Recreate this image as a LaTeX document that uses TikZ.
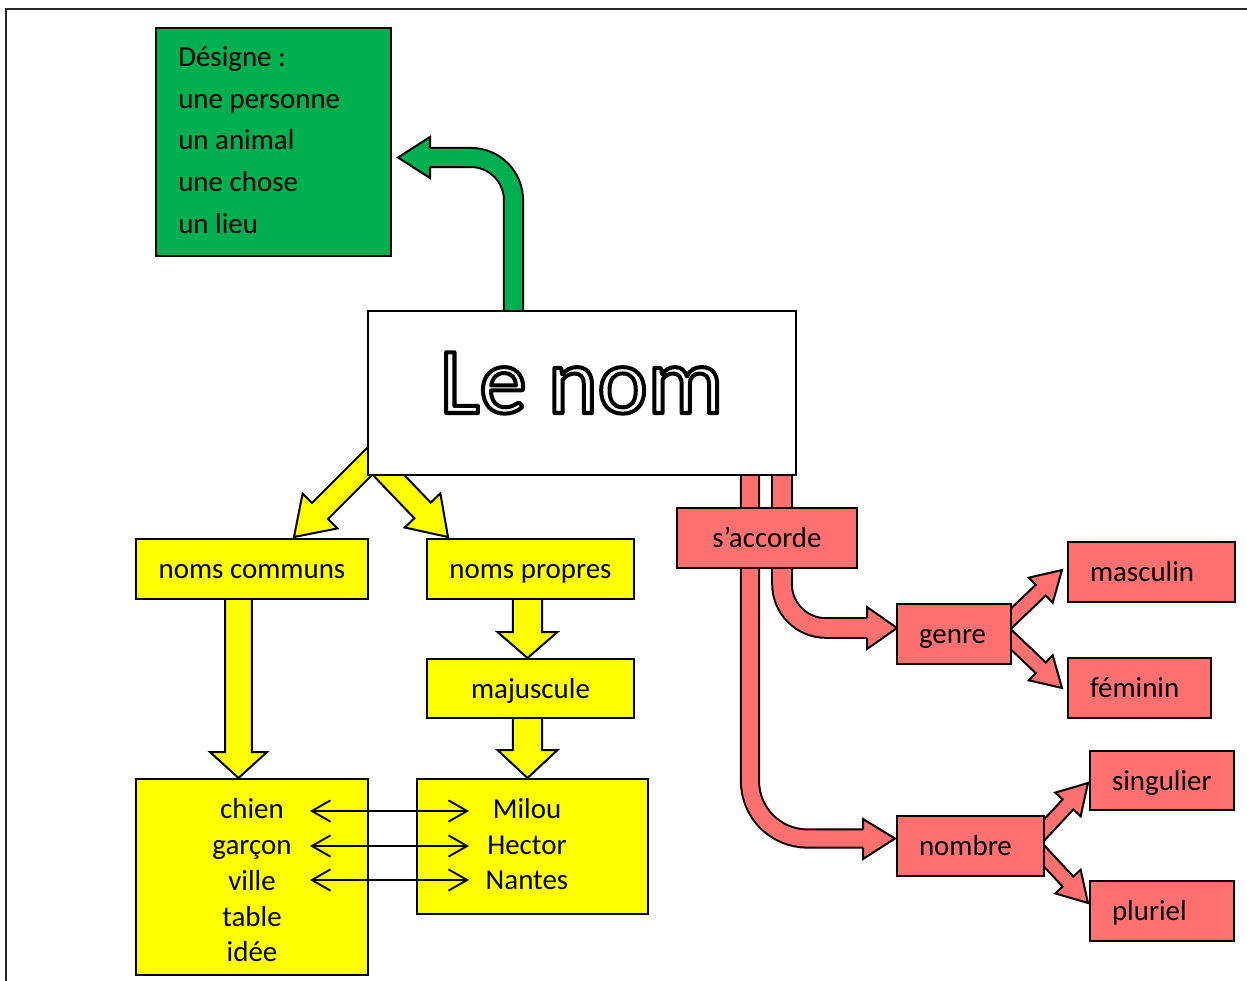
\documentclass[tikz,border=0pt]{standalone}
\usepackage{fontspec}
\setmainfont{Carlito}
\usetikzlibrary{calc,arrows.meta}
\definecolor{gr}{HTML}{00B050}
\definecolor{ye}{HTML}{FFFF00}
\definecolor{sa}{HTML}{FF7070}
\pgfdeclarelayer{bg}
\pgfsetlayers{bg,main}
% block arrow: style, start, tip, shaft half width, head half width, head length
\newcommand\blockarr[6]{%
  \coordinate (ba-h) at ($(#3)!#6!(#2)$);
  \filldraw[#1] ($(#2)!#4!90:(#3)$) -- ($(ba-h)!#4!90:(#3)$) -- ($(ba-h)!#5!90:(#3)$) -- (#3)
    -- ($(ba-h)!#5!-90:(#3)$) -- ($(ba-h)!#4!-90:(#3)$) -- ($(#2)!#4!-90:(#3)$) -- cycle;}
\newcommand\outlinetext[1]{{\color{white}\special{pdf:literal direct 2 Tr 3 w 0 0 0 RG 1 j}#1\special{pdf:literal direct 0 Tr}}}
\begin{document}
\begin{tikzpicture}[x=0.75pt,y=-0.75pt,
  font=\fontsize{21.7}{26}\selectfont,
  box/.style={draw=black, line width=1.5pt, inner sep=0pt, text height=17.6pt, text depth=3pt},
  leaf/.style={box, fill=sa, align=left, inner xsep=16.5pt, minimum height=45pt},
  txt/.style={inner sep=0pt, anchor=base},
  yarr/.style={fill=ye, draw=black, line width=1.5pt, line join=miter},
  rarr/.style={fill=sa, draw=black, line width=1.5pt, line join=miter},
  edge/.style={draw=black, line width=1.5pt, line join=miter},
  dbl/.style={line width=1.4pt, arrows={Straight Barb[length=14pt,width=16pt]-Straight Barb[length=14pt,width=16pt]}}]
\useasboundingbox (0,0) rectangle (1247,981);
\draw[line width=1.5pt, black!85] (6,990) -- (6,9) -- (1260,9);

% green box
\node[box, fill=gr, minimum width=176.25pt, minimum height=171pt] (desig) at (273.5,142) {};
\node[txt, anchor=base west] (d1) at (178,67) {Désigne :};
\node[txt, anchor=base west] (d2) at (178,108.5) {une personne};
\node[txt, anchor=base west] (d3) at (178,150) {un animal};
\node[txt, anchor=base west] (d4) at (178,191.5) {une chose};
\node[txt, anchor=base west] (d5) at (178,233) {un lieu};

% title
\node[box, fill=white, minimum width=321pt, minimum height=123pt] (lenom) at (582,393) {};
\node[txt, font=\fontsize{71}{80}\selectfont] (title) at (581.5,413) {\outlinetext{Le nom}};

% yellow boxes
\node[box, fill=ye, minimum width=174pt, minimum height=45pt] (communs) at (252,569) {noms communs};
\node[box, fill=ye, minimum width=155.25pt, minimum height=45pt] (propres) at (530.5,569) {noms propres};
\node[box, fill=ye, minimum width=155.25pt, minimum height=44.25pt] (maj) at (530.5,688.5) {majuscule};
\node[box, fill=ye, minimum width=174pt, minimum height=147pt] (exL) at (252,877) {};
\node[box, fill=ye, minimum width=173.25pt, minimum height=101.25pt] (exR) at (532.5,846.5) {};
\node[txt] (w1) at (252,818) {chien};
\node[txt] (w2) at (252,854) {garçon};
\node[txt] (w3) at (252,890) {ville};
\node[txt] (w4) at (252,926) {table};
\node[txt] (w5) at (252,961) {idée};
\node[txt] (p1) at (527,818) {Milou};
\node[txt] (p2) at (527,854) {Hector};
\node[txt] (p3) at (527,889) {Nantes};

% red boxes
\node[box, fill=sa, minimum width=135pt, minimum height=45pt] (acc) at (767,538) {s’accorde};
\node[leaf, text width=52.5pt] (genre) at (954,634) {genre};
\node[leaf, text width=77.25pt] (nombre) at (970.5,846) {nombre};
\node[leaf, text width=92.25pt] (masc) at (1151.5,572) {masculin};
\node[leaf, text width=74.25pt] (fem) at (1139.5,688) {féminin};
\node[leaf, text width=75pt, minimum height=44.25pt] (sing) at (1162,780.5) {singulier};
\node[leaf, text width=75pt] (plur) at (1162,911) {pluriel};

% double arrows
\coordinate (a1l) at (310,811); \coordinate (a1r) at (469,811);
\coordinate (a2l) at (310,846); \coordinate (a2r) at (469,846);
\coordinate (a3l) at (310,880); \coordinate (a3r) at (469,880);
\draw[dbl] (a1l) -- (a1r);
\draw[dbl] (a2l) -- (a2r);
\draw[dbl] (a3l) -- (a3r);

\begin{pgfonlayer}{bg}
% green curved arrow
\draw[line width=1.5pt, double=gr, double distance=12.8pt, rounded corners=32pt]
  (513.5,330) -- (513.5,157.5) -- (430,157.5);
\fill[gr] (430,137) -- (398,157.5) -- (430,178) -- cycle;
\draw[edge] (430,148) -- (430,137) -- (398,157.5) -- (430,178) -- (430,167);
% yellow arrows
\blockarr{yarr}{390,441}{294,537}{8.5pt}{18.5pt}{27.6pt}
\blockarr{yarr}{378.5,464.5}{448,537}{8.5pt}{18.5pt}{27.6pt}
\blockarr{yarr}{238.5,590}{238.5,778}{10.1pt}{21.4pt}{19.5pt}
\blockarr{yarr}{527.5,590}{527.5,658}{10.9pt}{22.5pt}{19.5pt}
\blockarr{yarr}{527.5,710}{527.5,778}{10.9pt}{22.5pt}{21pt}
% red curved arrows
\draw[line width=1.5pt, double=sa, double distance=13.2pt, rounded corners=33pt]
  (782,470) -- (782,628) -- (867,628);
\fill[sa] (867,607) -- (897,628) -- (867,649) -- cycle;
\draw[edge] (867,618) -- (867,607) -- (897,628) -- (867,649) -- (867,638);
\draw[line width=1.5pt, double=sa, double distance=12.1pt, rounded corners=43pt]
  (750,470) -- (750,838.5) -- (863,838.5);
\fill[sa] (863,819) -- (895,838.5) -- (863,859) -- cycle;
\draw[edge] (863,829.3) -- (863,819) -- (895,838.5) -- (863,859) -- (863,847.7);
% red small arrows
\blockarr{rarr}{1000,629}{1062,570}{5.5pt}{13pt}{22pt}
\blockarr{rarr}{1000,629}{1062,688}{5.5pt}{13pt}{22pt}
\blockarr{rarr}{1032,843}{1088,783}{5.5pt}{13pt}{22pt}
\blockarr{rarr}{1032,843}{1088,903}{5.5pt}{13pt}{22pt}
\end{pgfonlayer}
\end{tikzpicture}
\end{document}
